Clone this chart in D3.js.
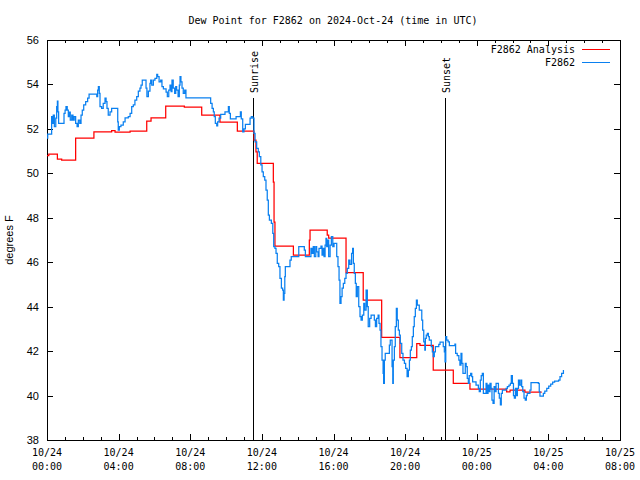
<!DOCTYPE html>
<html><head><meta charset="utf-8">
<script src="https://cdn.jsdelivr.net/npm/d3@7"></script>
<style>body{margin:0;background:#fff}svg{display:block}</style>
</head><body>
<script>
// ---- data (hours after 2024-10-24 00:00 UTC, degrees F) ----
const obsHours = [0.00,0.04,0.22,0.26,0.30,0.35,0.41,0.49,0.54,0.58,0.61,0.65,0.91,0.95,1.01,1.06,1.13,1.19,1.25,1.30,1.38,1.45,1.52,1.60,1.68,1.75,1.83,1.90,1.97,2.05,2.16,2.27,2.35,2.68,2.78,2.83,2.87,2.92,2.96,3.05,3.14,3.24,3.30,3.35,3.42,3.52,3.61,3.93,3.95,3.98,4.04,4.13,4.26,4.36,4.54,4.64,4.73,4.82,4.91,5.01,5.10,5.19,5.25,5.32,5.47,5.53,5.58,5.66,5.75,5.79,5.85,5.94,6.03,6.13,6.18,6.26,6.35,6.42,6.50,6.57,6.65,6.72,6.80,6.87,6.93,6.98,7.05,7.13,7.19,7.24,7.32,7.39,7.43,7.48,7.54,7.61,7.69,7.76,9.06,9.14,9.22,9.29,9.34,9.40,9.48,9.53,9.61,9.70,9.85,9.94,10.07,10.13,10.18,10.24,10.50,10.56,10.74,10.80,10.85,10.93,11.00,11.08,11.26,11.34,11.41,11.49,11.56,11.62,11.71,11.80,11.86,11.94,12.01,12.08,12.16,12.23,12.30,12.36,12.42,12.47,12.53,12.61,12.66,12.73,12.79,12.86,12.94,13.01,13.09,13.16,13.20,13.24,13.28,13.31,13.48,13.57,13.64,13.98,14.06,14.31,14.37,14.43,14.69,14.74,14.80,14.87,14.93,15.01,15.06,15.14,15.19,15.25,15.30,15.36,15.41,15.47,15.53,15.58,15.62,15.68,15.73,15.81,15.88,15.96,16.03,16.10,16.18,16.25,16.31,16.36,16.42,16.48,16.55,16.63,16.70,16.77,16.85,16.92,17.01,17.07,17.11,17.16,17.22,17.27,17.33,17.41,17.48,17.54,17.61,17.69,17.74,17.82,17.89,17.94,18.02,18.10,18.22,18.28,18.34,18.41,18.49,18.54,18.60,18.65,18.71,18.77,18.80,18.84,18.89,19.06,19.12,19.17,19.23,19.27,19.31,19.34,19.40,19.45,19.51,19.56,19.62,19.68,19.73,19.81,19.88,19.96,20.03,20.11,20.18,20.24,20.29,20.35,20.40,20.46,20.51,20.57,20.63,20.68,20.74,20.79,20.87,20.93,20.98,21.04,21.10,21.13,21.18,21.24,21.30,21.35,21.41,21.46,21.52,21.57,21.63,21.69,21.80,21.88,21.95,22.06,22.13,22.19,22.23,22.27,22.32,22.40,22.47,22.69,22.78,22.82,22.91,23.00,23.06,23.12,23.17,23.23,23.30,23.36,23.41,23.47,23.53,23.58,23.66,23.72,23.77,23.90,23.96,24.03,24.09,24.14,24.20,24.25,24.31,24.37,24.46,24.52,24.57,24.63,24.69,24.74,24.80,24.85,24.91,24.97,25.02,25.08,25.15,25.21,25.26,25.32,25.37,25.43,25.58,25.64,25.71,25.80,25.88,25.93,25.99,26.05,26.10,26.16,26.22,26.27,26.33,26.38,26.46,26.51,26.57,26.64,26.71,26.77,26.82,26.90,26.97,27.03,27.38,27.44,27.49,27.53,27.65,27.72,27.80,27.91,28.02,28.13,28.24,28.35,28.46,28.57,28.65,28.74,28.84];
const obsValues = [51.58,51.76,51.76,52.55,52.25,52.62,52.1,52.48,53.0,53.25,52.77,52.25,52.25,52.7,52.85,53.0,52.85,52.55,52.75,52.4,52.62,52.4,52.55,52.25,52.1,52.4,52.25,52.62,52.85,53.08,53.23,53.38,53.56,53.56,53.45,53.75,53.9,53.6,53.0,52.92,53.15,53.38,53.23,52.92,52.62,52.77,52.92,52.92,52.32,51.95,52.1,52.17,52.32,52.5,52.55,52.7,53.0,53.08,53.3,53.45,53.7,53.83,53.97,54.2,54.2,53.83,53.45,53.7,54.05,54.2,53.97,54.2,54.27,54.45,54.35,54.12,54.2,53.9,53.8,53.8,53.65,53.45,53.75,53.97,53.68,54.2,53.83,53.6,53.9,53.75,53.45,53.97,54.35,54.12,53.83,53.6,53.75,53.4,53.4,53.15,52.92,52.77,52.55,52.25,52.14,52.32,52.48,52.65,52.65,52.77,52.77,53.0,52.7,52.45,52.45,52.55,52.55,52.77,52.45,51.87,52.0,52.2,52.2,52.48,52.55,52.48,51.8,51.42,51.12,50.97,50.75,50.38,50.07,49.85,49.7,49.25,48.8,48.12,47.9,47.9,47.75,47.3,46.7,46.62,46.4,45.95,45.8,45.27,44.83,44.75,44.3,44.6,45.35,45.8,45.8,46.1,46.25,46.25,46.7,46.7,46.55,46.25,46.25,46.62,46.4,46.7,46.25,46.7,46.47,46.25,46.62,46.62,46.73,46.32,46.62,46.25,46.77,47.07,46.7,47.0,46.25,46.77,47.15,46.7,46.85,46.85,46.25,45.8,45.2,44.15,44.45,44.83,45.05,45.27,45.5,45.72,46.1,45.9,46.4,46.62,45.95,45.5,45.05,44.45,44.9,44.0,43.55,43.4,43.62,44.15,43.85,44.75,44.0,43.1,43.47,43.62,43.62,43.4,43.1,43.47,43.62,43.25,42.95,42.2,41.6,41.0,40.55,41.6,41.9,41.9,42.27,42.5,42.5,41.3,40.55,41.6,42.2,43.1,43.92,43.4,42.95,42.72,42.35,41.9,41.6,41.45,41.22,40.85,41.15,41.6,42.05,42.2,42.65,43.1,43.55,43.92,44.3,44.07,44.07,43.85,43.85,43.4,42.95,42.42,42.05,42.57,42.72,42.8,42.65,42.5,42.5,42.2,41.97,41.75,41.97,42.2,42.2,42.3,42.4,42.4,42.2,41.97,41.52,42.65,42.5,42.42,42.25,42.25,42.32,41.9,41.8,41.6,41.37,41.9,41.45,41.0,41.0,41.45,41.3,40.77,40.55,40.9,41.0,40.85,40.62,40.62,40.47,40.47,40.32,40.18,40.7,40.9,41.0,40.1,40.1,40.55,40.1,40.47,40.18,40.55,40.32,39.8,39.65,40.4,40.18,40.55,40.55,40.1,39.88,39.58,40.1,40.25,40.25,40.32,40.4,40.47,40.55,40.9,40.55,40.0,39.88,40.32,40.0,40.32,40.7,40.47,40.7,40.4,40.18,39.88,39.8,40.0,40.1,40.1,40.25,40.58,40.58,40.55,40.18,39.98,39.98,40.1,40.2,40.32,40.43,40.52,40.6,40.65,40.65,40.7,40.85,41.0,41.15];

const anaHours = [0.00,0.10,0.58,0.82,1.60,2.62,3.61,3.80,4.64,5.57,5.81,6.63,7.67,8.64,9.66,10.63,11.56,11.67,11.74,12.64,12.68,12.73,13.76,14.65,14.69,15.65,15.73,16.70,17.66,18.69,19.71,20.65,20.83,21.57,22.69,23.62,25.67,25.86,26.69,27.63];
const anaValues = [50.8,50.86,50.64,50.6,51.58,51.87,51.92,51.85,51.9,52.35,52.5,53.03,52.98,52.62,52.3,51.9,51.5,50.97,50.45,49.6,47.8,46.73,46.32,47.0,47.45,47.22,47.09,45.53,44.3,42.62,41.71,42.34,42.26,41.15,40.55,40.29,40.17,40.25,40.16,40.16];

const seriesNames = ["F2862 Analysis", "F2862"];
const seriesColors = ["#ff0000", "#0a80f0"];
const yTicks = [38,40,42,44,46,48,50,52,54,56];
const sunEvents = [{label:"Sunrise", hour:11.5}, {label:"Sunset", hour:22.23}];
const titleText = "Dew Point for F2862 on 2024-Oct-24 (time in UTC)";
const yLabel = "degrees F";

// ---- drawing ----
const W = 640, H = 480;
const M = {left:47, right:620, top:40, bottom:440};
const t0 = Date.UTC(2024, 9, 24, 0, 0);
const toDate = h => new Date(t0 + h * 3600e3);

const x = d3.scaleUtc().domain([toDate(0), toDate(32)]).range([M.left, M.right]);
const y = d3.scaleLinear().domain([38, 56]).range([M.bottom, M.top]);

const svg = d3.select("body").append("svg").attr("width", W).attr("height", H);
const mono = "'DejaVu Sans Mono', monospace";
const sans = "'Liberation Sans', Arial, sans-serif";

// title
svg.append("text").attr("x", 333).attr("y", 24).attr("text-anchor", "middle")
  .attr("font-family", mono).attr("font-size", 10).text(titleText);

// frame
svg.append("rect").attr("x", M.left + 0.5).attr("y", M.top + 0.5)
  .attr("width", M.right - M.left).attr("height", M.bottom - M.top)
  .attr("fill", "none").attr("stroke", "#000").attr("stroke-width", 1)
  .attr("shape-rendering", "crispEdges");

// x ticks (hourly minor, 4-hourly major), bottom and top
const hourTicks = d3.range(0, 33).map(toDate);
const g = svg.append("g").attr("stroke", "#000").attr("stroke-width", 1).attr("shape-rendering", "crispEdges");
hourTicks.forEach((d, i) => {
  const px = Math.round(x(d)) + 0.5;
  const len = (i % 4 === 0) ? 6 : 3;
  g.append("line").attr("x1", px).attr("x2", px).attr("y1", M.bottom).attr("y2", M.bottom - len);
  g.append("line").attr("x1", px).attr("x2", px).attr("y1", M.top).attr("y2", M.top + len);
});
// y ticks left and right
yTicks.forEach(v => {
  const py = Math.round(y(v)) + 0.5;
  g.append("line").attr("x1", M.left).attr("x2", M.left + 6).attr("y1", py).attr("y2", py);
  g.append("line").attr("x1", M.right).attr("x2", M.right - 6).attr("y1", py).attr("y2", py);
});

// x tick labels
const fmtD = d3.utcFormat("%m/%d"), fmtT = d3.utcFormat("%H:%M");
d3.range(0, 33, 4).map(toDate).forEach(d => {
  const t = svg.append("text").attr("x", x(d)).attr("text-anchor", "middle")
    .attr("font-family", mono).attr("font-size", 10);
  t.append("tspan").attr("x", x(d)).attr("y", 456).text(fmtD(d));
  t.append("tspan").attr("x", x(d)).attr("y", 470).text(fmtT(d));
});
// y tick labels
yTicks.forEach(v => {
  svg.append("text").attr("x", 39).attr("y", y(v) + 4).attr("text-anchor", "end")
    .attr("font-family", sans).attr("font-size", 11).text(v);
});
// y label
svg.append("text").attr("transform", "translate(13,240) rotate(-90)").attr("text-anchor", "middle")
  .attr("font-family", sans).attr("font-size", 11).text(yLabel);

// sunrise / sunset
sunEvents.forEach(e => {
  const px = Math.round(x(toDate(e.hour))) + 0.5;
  svg.append("line").attr("x1", px).attr("x2", px).attr("y1", 98).attr("y2", M.bottom)
    .attr("stroke", "#000").attr("stroke-width", 1).attr("shape-rendering", "crispEdges");
  svg.append("text").attr("transform", `translate(${px + 4},93) rotate(-90)`)
    .attr("font-family", mono).attr("font-size", 10).text(e.label);
});

// series
const plot = svg.append("g");
const anaData = anaHours.map((h, i) => [toDate(h), anaValues[i]]);
const obsData = obsHours.map((h, i) => [toDate(h), obsValues[i]]);
plot.append("path").datum(anaData)
  .attr("d", d3.line().x(d => x(d[0])).y(d => y(d[1])).curve(d3.curveStepAfter))
  .attr("fill", "none").attr("stroke", seriesColors[0]).attr("stroke-width", 1.25);
plot.append("path").datum(obsData)
  .attr("d", d3.line().x(d => x(d[0])).y(d => y(d[1])).curve(d3.curveStepAfter))
  .attr("fill", "none").attr("stroke", seriesColors[1]).attr("stroke-width", 1.25);

// legend
seriesNames.forEach((n, i) => {
  const ly = 49 + i * 13;
  svg.append("text").attr("x", 575).attr("y", ly + 4).attr("text-anchor", "end")
    .attr("font-family", mono).attr("font-size", 10).text(n);
  svg.append("line").attr("x1", 582).attr("x2", 610).attr("y1", ly + 0.5).attr("y2", ly + 0.5)
    .attr("stroke", seriesColors[i]).attr("stroke-width", 1)
    .attr("shape-rendering", "crispEdges");
});
</script>
</body></html>
